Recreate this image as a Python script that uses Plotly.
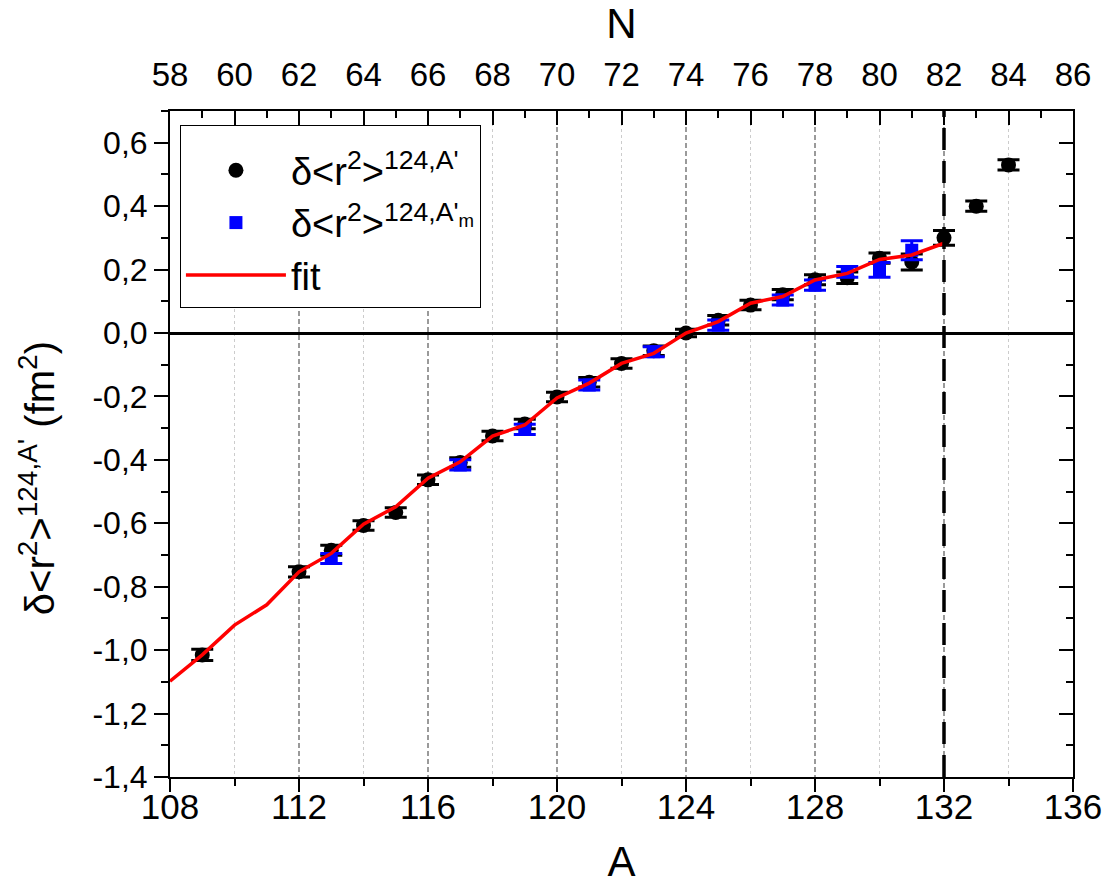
import plotly.graph_objects as go

# Mass number A of the isotopes (N = A - 50)
A_pts = [109, 112, 113, 114, 115, 116, 117, 118, 119, 120, 121, 122, 123, 124,
         125, 126, 127, 128, 129, 130, 131, 132, 133, 134]
dr2_pts = [-1.015, -0.753, -0.685, -0.607, -0.566, -0.463, -0.408, -0.325, -0.287,
           -0.202, -0.155, -0.096, -0.056, 0.000, 0.040, 0.088, 0.121, 0.168,
           0.174, 0.236, 0.224, 0.300, 0.400, 0.530]
err_pts = [0.018, 0.016, 0.016, 0.015, 0.015, 0.015, 0.015, 0.015, 0.015, 0.015,
           0.015, 0.015, 0.015, 0.012, 0.015, 0.015, 0.016, 0.016, 0.018, 0.016,
           0.025, 0.023, 0.016, 0.016]

# Isomeric states
A_iso = [113, 117, 119, 121, 123, 125, 127, 128, 129, 130, 131]
dr2_iso = [-0.711, -0.416, -0.304, -0.164, -0.059, 0.025, 0.104, 0.151, 0.193,
           0.199, 0.261]
err_iso = [0.016, 0.016, 0.016, 0.016, 0.016, 0.016, 0.016, 0.016, 0.017, 0.023,
           0.030]

# Fit curve
A_fit = list(range(108, 133))
dr2_fit = [-1.098, -1.015, -0.921, -0.857, -0.753, -0.695, -0.603, -0.548, -0.458,
           -0.406, -0.325, -0.290, -0.205, -0.158, -0.096, -0.064, 0.000, 0.036,
           0.094, 0.115, 0.167, 0.188, 0.232, 0.246, 0.283]

# Axis ticks
y_tickvals = [-1.4, -1.2, -1.0, -0.8, -0.6, -0.4, -0.2, 0.0, 0.2, 0.4, 0.6]
y_ticktext = ["-1,4", "-1,2", "-1,0", "-0,8", "-0,6", "-0,4", "-0,2", "0,0",
              "0,2", "0,4", "0,6"]
A_range = [108, 136]
Z_tin = 50
N_range = [A_range[0] - Z_tin, A_range[1] - Z_tin]
y_range = [-1.4, 0.7]
shell_A = 132

FONT = "Liberation Sans, Arial, sans-serif"

fig = go.Figure()

fig.add_trace(go.Scatter(
    x=A_pts, y=dr2_pts, mode="markers",
    name="δ&lt;r<sup>2</sup>&gt;<sup>124,A'</sup>",
    marker=dict(symbol="circle", size=15, color="black"),
    error_y=dict(type="data", array=err_pts, visible=True, color="black",
                 thickness=3, width=11),
))
fig.add_trace(go.Scatter(
    x=A_iso, y=dr2_iso, mode="markers",
    name="δ&lt;r<sup>2</sup>&gt;<sup>124,A'<sub>m</sub></sup>",
    marker=dict(symbol="square", size=13, color="#0000ff"),
    error_y=dict(type="data", array=err_iso, visible=True, color="#0000ff",
                 thickness=3, width=11),
))
fig.add_trace(go.Scatter(
    x=A_fit, y=dr2_fit, mode="lines", name="fit",
    line=dict(color="#ff0000", width=3.5),
))
# Transparent copy of the fit on the N (top) / right axes so they are drawn
fig.add_trace(go.Scatter(
    x=[a - Z_tin for a in A_fit], y=dr2_fit, mode="lines",
    xaxis="x2", yaxis="y2", opacity=0, showlegend=False, hoverinfo="skip",
))

# N = 82 shell closure
fig.add_shape(type="line", xref="x", yref="paper", x0=shell_A, x1=shell_A,
              y0=0, y1=1, line=dict(color="black", width=3.5, dash="22px,11px"))

# Y axis title
fig.add_annotation(
    text="δ&lt;r<sup>2</sup>&gt;<sup>124,A'</sup> (fm<sup>2</sup>)",
    xref="paper", yref="paper", x=-0.147, y=0.449,
    xanchor="center", yanchor="middle", textangle=-90, showarrow=False,
    font=dict(size=40, family=FONT, color="black"),
)

axis_common = dict(showline=True, linecolor="black", linewidth=2,
                   tickcolor="black", tickwidth=2, mirror=False,
                   automargin=False)

fig.update_layout(
    width=1105, height=885,
    margin=dict(l=170, r=32, t=111, b=108, autoexpand=False),
    paper_bgcolor="white", plot_bgcolor="white",
    font=dict(family=FONT, color="black", size=32),
    showlegend=True,
    legend=dict(x=0.011, y=0.979, xanchor="left", yanchor="top",
                bordercolor="black", borderwidth=1, bgcolor="white",
                font=dict(size=38, family=FONT), itemwidth=100,
                entrywidth=200, tracegroupgap=0,
                title=dict(text=" ", font=dict(size=10))),
    xaxis=dict(
        **axis_common,
        range=A_range, tick0=108, dtick=4, ticks="outside", ticklen=13,
        tickfont=dict(size=35), ticklabelstandoff=-15,
        showgrid=True, gridcolor="#9a9a9a", griddash="5px,3px", gridwidth=1.5,
        zeroline=False,
        minor=dict(dtick=2, tick0=108, ticks="outside", ticklen=7,
                   tickwidth=2, tickcolor="black", showgrid=True,
                   gridcolor="#cccccc", griddash="3px,3px", gridwidth=1),
        title=dict(text="A", font=dict(size=42), standoff=33),
    ),
    xaxis2=dict(
        **axis_common,
        overlaying="x", side="top", anchor="y",
        range=N_range, tick0=58, dtick=2, ticks="inside", ticklen=14,
        tickfont=dict(size=33), ticklabelstandoff=10,
        showgrid=False, zeroline=False,
        minor=dict(dtick=1, tick0=58, ticks="inside", ticklen=7,
                   tickwidth=2, tickcolor="black", showgrid=False),
        title=dict(text="N", font=dict(size=42), standoff=5),
    ),
    yaxis=dict(
        **axis_common,
        range=y_range, tickmode="array", tickvals=y_tickvals,
        ticktext=y_ticktext, ticks="outside", ticklen=14,
        tickfont=dict(size=32),
        showgrid=False,
        zeroline=True, zerolinecolor="black", zerolinewidth=2.5,
        minor=dict(dtick=0.1, tick0=0, ticks="outside", ticklen=7,
                   tickwidth=2, tickcolor="black", showgrid=False),
    ),
    yaxis2=dict(
        **axis_common,
        overlaying="y", side="right", anchor="x",
        range=y_range, tickmode="array", tickvals=y_tickvals,
        ticks="inside", ticklen=14, showticklabels=False,
        showgrid=False, zeroline=False,
        minor=dict(dtick=0.1, tick0=0, ticks="inside", ticklen=7,
                   tickwidth=2, tickcolor="black", showgrid=False),
    ),
)

fig.write_html("out.html")
